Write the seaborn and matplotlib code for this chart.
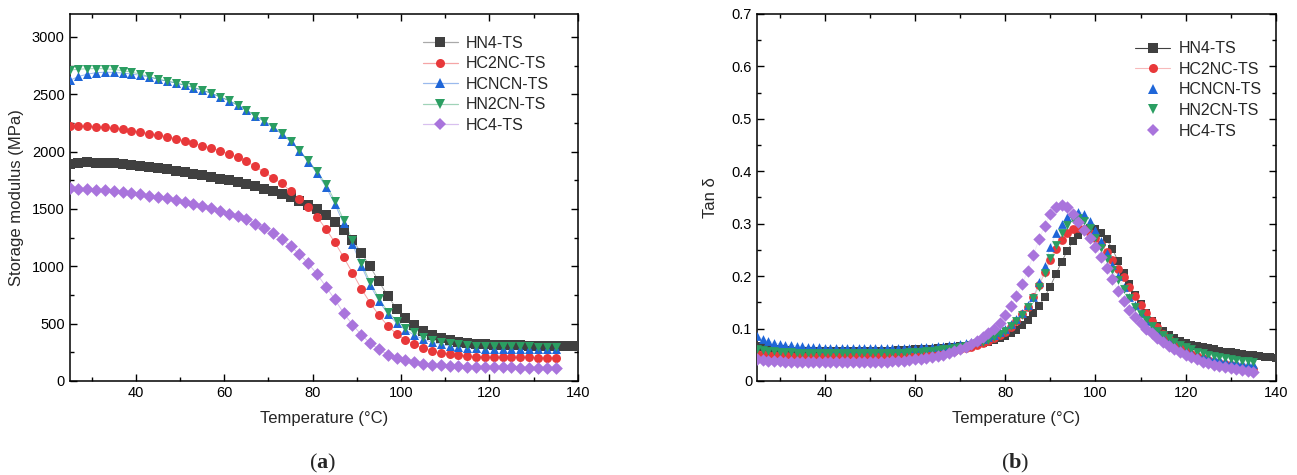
import matplotlib
matplotlib.use("Agg")
import matplotlib.pyplot as plt
import seaborn as sns
from matplotlib.lines import Line2D
from matplotlib.colors import to_rgb
from matplotlib.ticker import MultipleLocator, FuncFormatter

sns.set_theme(style="ticks")
plt.rcParams["font.family"] = ["Liberation Sans", "DejaVu Sans"]
plt.rcParams["mathtext.fontset"] = "custom"
plt.rcParams["mathtext.rm"] = "Liberation Serif"
plt.rcParams["mathtext.bf"] = "Liberation Serif:bold"

names = ["HN4-TS", "HC2NC-TS", "HCNCN-TS", "HN2CN-TS", "HC4-TS"]
colors = ["#404040", "#e8383a", "#1f66d8", "#2b9e62", "#a974dc"]
markers = ["s", "o", "^", "v", "D"]

# storage modulus (MPa), every 2 °C
temp_e = [25, 27, 29, 31, 33, 35, 37, 39, 41, 43, 45, 47, 49, 51, 53, 55, 57, 59, 61, 63,
          65, 67, 69, 71, 73, 75, 77, 79, 81, 83, 85, 87, 89, 91, 93, 95, 97, 99, 101, 103,
          105, 107, 109, 111, 113, 115, 117, 119, 121, 123, 125, 127, 129, 131, 133, 135]
temp_e_hn4 = temp_e + [137, 139]

e_hn4 = [1895, 1900, 1905, 1903, 1900, 1897, 1892, 1885, 1878, 1868, 1858, 1846, 1834, 1820,
         1806, 1792, 1778, 1763, 1748, 1732, 1715, 1697, 1677, 1655, 1630, 1603, 1572, 1537,
         1495, 1448, 1390, 1318, 1230, 1120, 998, 868, 742, 630, 545, 484, 438, 402, 375, 356,
         342, 332, 325, 320, 316, 313, 311, 310, 309, 308, 308, 307, 307, 307]
e_hc2nc = [2222, 2224, 2222, 2218, 2212, 2204, 2194, 2182, 2170, 2157, 2143, 2130, 2112, 2094,
           2075, 2053, 2032, 2008, 1980, 1950, 1915, 1870, 1822, 1773, 1722, 1655, 1585, 1515,
           1430, 1326, 1210, 1080, 944, 805, 683, 573, 481, 408, 359, 318, 284, 261, 243, 232,
           223, 217, 213, 210, 208, 207, 206, 205, 205, 204, 204, 204]
e_hcncn = [2620, 2655, 2675, 2688, 2692, 2690, 2685, 2676, 2665, 2650, 2630, 2614, 2598, 2578,
           2558, 2535, 2508, 2477, 2444, 2404, 2360, 2311, 2264, 2214, 2153, 2088, 2003, 1913,
           1812, 1695, 1545, 1375, 1195, 1005, 837, 698, 585, 505, 445, 400, 365, 338, 318, 305,
           295, 289, 285, 282, 280, 279, 278, 277, 276, 276, 275, 275]
e_hn2cn = [2710, 2718, 2722, 2724, 2722, 2716, 2706, 2692, 2676, 2655, 2632, 2616, 2600, 2580,
           2560, 2537, 2510, 2479, 2447, 2407, 2363, 2314, 2268, 2218, 2158, 2094, 2010, 1923,
           1827, 1717, 1573, 1407, 1228, 1031, 863, 721, 605, 527, 466, 423, 385, 359, 340, 327,
           318, 312, 308, 306, 304, 303, 302, 301, 301, 300, 300, 300]
e_hc4 = [1680, 1677, 1673, 1668, 1662, 1655, 1647, 1638, 1628, 1617, 1605, 1592, 1578, 1562,
         1545, 1527, 1507, 1485, 1460, 1437, 1410, 1372, 1330, 1288, 1234, 1175, 1107, 1025,
         932, 823, 712, 593, 492, 403, 330, 275, 230, 200, 180, 164, 152, 143, 137, 132,
         128, 125, 123, 121, 120, 119, 118, 117, 116, 116, 115, 115]

# tan delta, every 1.25 °C
temp_t = [25, 26.25, 27.5, 28.75, 30, 31.25, 32.5, 33.75, 35, 36.25, 37.5, 38.75, 40, 41.25,
          42.5, 43.75, 45, 46.25, 47.5, 48.75, 50, 51.25, 52.5, 53.75, 55, 56.25, 57.5, 58.75,
          60, 61.25, 62.5, 63.75, 65, 66.25, 67.5, 68.75, 70, 71.25, 72.5, 73.75, 75, 76.25,
          77.5, 78.75, 80, 81.25, 82.5, 83.75, 85, 86.25, 87.5, 88.75, 90, 91.25, 92.5, 93.75,
          95, 96.25, 97.5, 98.75, 100, 101.25, 102.5, 103.75, 105, 106.25, 107.5, 108.75, 110,
          111.25, 112.5, 113.75, 115, 116.25, 117.5, 118.75, 120, 121.25, 122.5, 123.75, 125,
          126.25, 127.5, 128.75, 130, 131.25, 132.5, 133.75, 135]
temp_t_hn4 = temp_t + [136.25, 137.5, 138.75, 140]

t_hn4 = [0.066, 0.064, 0.062, 0.061, 0.060, 0.059, 0.058, 0.058, 0.057, 0.057, 0.057, 0.057,
         0.057, 0.057, 0.057, 0.057, 0.057, 0.057, 0.057, 0.057, 0.058, 0.058, 0.058, 0.058,
         0.058, 0.059, 0.059, 0.059, 0.060, 0.060, 0.061, 0.061, 0.062, 0.063, 0.064, 0.065,
         0.066, 0.067, 0.069, 0.071, 0.073, 0.075, 0.078, 0.082, 0.086, 0.091, 0.098, 0.107,
         0.117, 0.129, 0.143, 0.160, 0.180, 0.204, 0.227, 0.248, 0.266, 0.279, 0.287, 0.291,
         0.290, 0.283, 0.270, 0.252, 0.229, 0.206, 0.184, 0.164, 0.146, 0.129, 0.115, 0.104,
         0.095, 0.087, 0.081, 0.076, 0.072, 0.069, 0.066, 0.064, 0.062, 0.060, 0.058, 0.056,
         0.055, 0.053, 0.052, 0.050, 0.049, 0.047, 0.046, 0.045, 0.044]
t_hc2nc = [0.052, 0.051, 0.050, 0.050, 0.049, 0.049, 0.048, 0.048, 0.048, 0.048, 0.048, 0.048,
           0.048, 0.048, 0.048, 0.048, 0.048, 0.048, 0.048, 0.048, 0.048, 0.048, 0.048, 0.048,
           0.049, 0.049, 0.049, 0.050, 0.050, 0.051, 0.052, 0.053, 0.054, 0.055, 0.057, 0.058,
           0.060, 0.062, 0.065, 0.068, 0.072, 0.076, 0.081, 0.087, 0.094, 0.103, 0.114, 0.127,
           0.142, 0.160, 0.183, 0.207, 0.230, 0.252, 0.269, 0.282, 0.290, 0.292, 0.289, 0.282,
           0.273, 0.261, 0.246, 0.230, 0.214, 0.198, 0.180, 0.162, 0.145, 0.130, 0.115, 0.102,
           0.090, 0.080, 0.071, 0.064, 0.057, 0.052, 0.047, 0.043, 0.040, 0.037, 0.034, 0.032,
           0.030, 0.028, 0.026, 0.024, 0.023]
t_hcncn = [0.086, 0.080, 0.076, 0.073, 0.071, 0.069, 0.068, 0.067, 0.066, 0.065, 0.064, 0.064,
           0.063, 0.063, 0.063, 0.062, 0.062, 0.062, 0.062, 0.062, 0.062, 0.062, 0.062, 0.062,
           0.062, 0.062, 0.063, 0.063, 0.063, 0.064, 0.064, 0.065, 0.066, 0.067, 0.068, 0.069,
           0.070, 0.072, 0.074, 0.077, 0.080, 0.083, 0.087, 0.093, 0.100, 0.108, 0.118, 0.130,
           0.144, 0.161, 0.188, 0.220, 0.255, 0.282, 0.300, 0.312, 0.320, 0.323, 0.319, 0.305,
           0.287, 0.266, 0.244, 0.222, 0.200, 0.180, 0.161, 0.144, 0.129, 0.115, 0.103, 0.093,
           0.084, 0.076, 0.069, 0.063, 0.058, 0.054, 0.050, 0.047, 0.045, 0.043, 0.041, 0.039,
           0.037, 0.036, 0.034, 0.033, 0.032]
t_hn2cn = [0.061, 0.059, 0.058, 0.057, 0.056, 0.055, 0.055, 0.054, 0.054, 0.054, 0.053, 0.053,
           0.053, 0.053, 0.053, 0.053, 0.053, 0.053, 0.053, 0.053, 0.053, 0.053, 0.053, 0.054,
           0.054, 0.054, 0.054, 0.055, 0.055, 0.056, 0.057, 0.058, 0.059, 0.060, 0.061, 0.063,
           0.065, 0.067, 0.069, 0.072, 0.075, 0.079, 0.083, 0.089, 0.096, 0.104, 0.114, 0.126,
           0.141, 0.158, 0.180, 0.206, 0.234, 0.260, 0.282, 0.298, 0.308, 0.311, 0.306, 0.292,
           0.273, 0.253, 0.232, 0.212, 0.193, 0.175, 0.158, 0.142, 0.128, 0.116, 0.105, 0.096,
           0.088, 0.081, 0.075, 0.069, 0.064, 0.060, 0.056, 0.053, 0.050, 0.048, 0.046, 0.044,
           0.042, 0.040, 0.039, 0.038, 0.036]
t_hc4 = [0.041, 0.040, 0.039, 0.038, 0.038, 0.037, 0.037, 0.037, 0.037, 0.037, 0.037, 0.037,
         0.037, 0.037, 0.037, 0.037, 0.037, 0.037, 0.037, 0.037, 0.037, 0.037, 0.037, 0.037,
         0.038, 0.038, 0.039, 0.040, 0.041, 0.042, 0.043, 0.045, 0.047, 0.050, 0.053, 0.057,
         0.061, 0.065, 0.070, 0.076, 0.083, 0.091, 0.100, 0.111, 0.126, 0.143, 0.162, 0.184,
         0.210, 0.240, 0.270, 0.296, 0.319, 0.332, 0.336, 0.331, 0.318, 0.303, 0.288, 0.272,
         0.255, 0.236, 0.215, 0.194, 0.172, 0.152, 0.136, 0.122, 0.110, 0.100, 0.091, 0.082,
         0.074, 0.067, 0.061, 0.055, 0.050, 0.045, 0.041, 0.037, 0.034, 0.031, 0.029, 0.027,
         0.025, 0.023, 0.021, 0.019, 0.018]

e_series = [(temp_e_hn4, e_hn4), (temp_e, e_hc2nc), (temp_e, e_hcncn), (temp_e, e_hn2cn), (temp_e, e_hc4)]
t_series = [(temp_t_hn4, t_hn4), (temp_t, t_hc2nc), (temp_t, t_hcncn), (temp_t, t_hn2cn), (temp_t, t_hc4)]


def lighten(c, f):
    r, g, b = to_rgb(c)
    return (1 - f * (1 - r), 1 - f * (1 - g), 1 - f * (1 - b))


def draw(ax, series, line_alpha, size):
    for (x, y), c, m, la in zip(series, colors, markers, line_alpha):
        sns.lineplot(x=x, y=y, ax=ax, color=c, linewidth=0.7, alpha=la, sort=False)
        sns.scatterplot(x=x, y=y, ax=ax, color=c, marker=m, s=size, linewidth=0, zorder=3)


def style_axes(ax):
    ax.set_xlim(25, 140)
    ax.xaxis.set_major_locator(MultipleLocator(20))
    ax.xaxis.set_minor_locator(MultipleLocator(10))
    ax.tick_params(which="both", direction="in", top=True, right=True, colors="black",
                   labelsize=10.5, width=1)
    ax.tick_params(which="major", length=5)
    ax.tick_params(which="minor", length=3)
    for s in ax.spines.values():
        s.set_color("black")
        s.set_linewidth(1.1)
    ax.set_xlabel("Temperature (°C)", fontsize=12, labelpad=8)


fig = plt.figure(figsize=(12.97, 4.75), dpi=100)
ax1 = fig.add_axes([0.0537, 0.198, 0.3917, 0.7726])
ax2 = fig.add_axes([0.5837, 0.198, 0.400, 0.7726])

draw(ax1, e_series, [0.45] * 5, 42)
style_axes(ax1)
ax1.set_ylim(0, 3200)
ax1.yaxis.set_major_locator(MultipleLocator(500))
ax1.yaxis.set_minor_locator(MultipleLocator(250))
ax1.set_ylabel("Storage modulus (MPa)", fontsize=12, labelpad=6)

draw(ax2, t_series, [0.6, 0.25, 0.15, 0.15, 0.15], 40)
style_axes(ax2)
ax2.set_ylim(0, 0.7)
ax2.yaxis.set_major_locator(MultipleLocator(0.1))
ax2.yaxis.set_minor_locator(MultipleLocator(0.05))
ax2.yaxis.set_major_formatter(FuncFormatter(lambda v, p: f"{v:g}"))
ax2.set_ylabel("Tan δ", fontsize=12, labelpad=10)

left_handles = [Line2D([], [], color=lighten(c, 0.45), marker=m, markersize=6.5, linewidth=0.9,
                       markerfacecolor=c, markeredgecolor=c, markeredgewidth=0)
                for c, m in zip(colors, markers)]
ax1.legend(left_handles, names, loc="upper right", bbox_to_anchor=(0.972, 0.98), frameon=False,
           fontsize=11.5, handlelength=2.2, handletextpad=0.5, labelspacing=0.35)

right_lines = [lighten(colors[0], 1.0), lighten(colors[1], 0.35), "none", "none", "none"]
right_handles = [Line2D([], [], color=lc, marker=m, markersize=6.5, markeredgewidth=0,
                        markerfacecolor=c, linewidth=0.8)
                 for c, m, lc in zip(colors, markers, right_lines)]
ax2.legend(right_handles, names, loc="upper right", bbox_to_anchor=(1.0, 0.965), frameon=False,
           fontsize=11.5, handlelength=2.2, handletextpad=0.5, labelspacing=0.35)

fig.text(0.249, 0.025, r"($\mathbf{a}$)", ha="center", va="center", fontsize=16,
         family="Liberation Serif")
fig.text(0.783, 0.025, r"($\mathbf{b}$)", ha="center", va="center", fontsize=16,
         family="Liberation Serif")

fig.savefig("out.png", dpi=100)
